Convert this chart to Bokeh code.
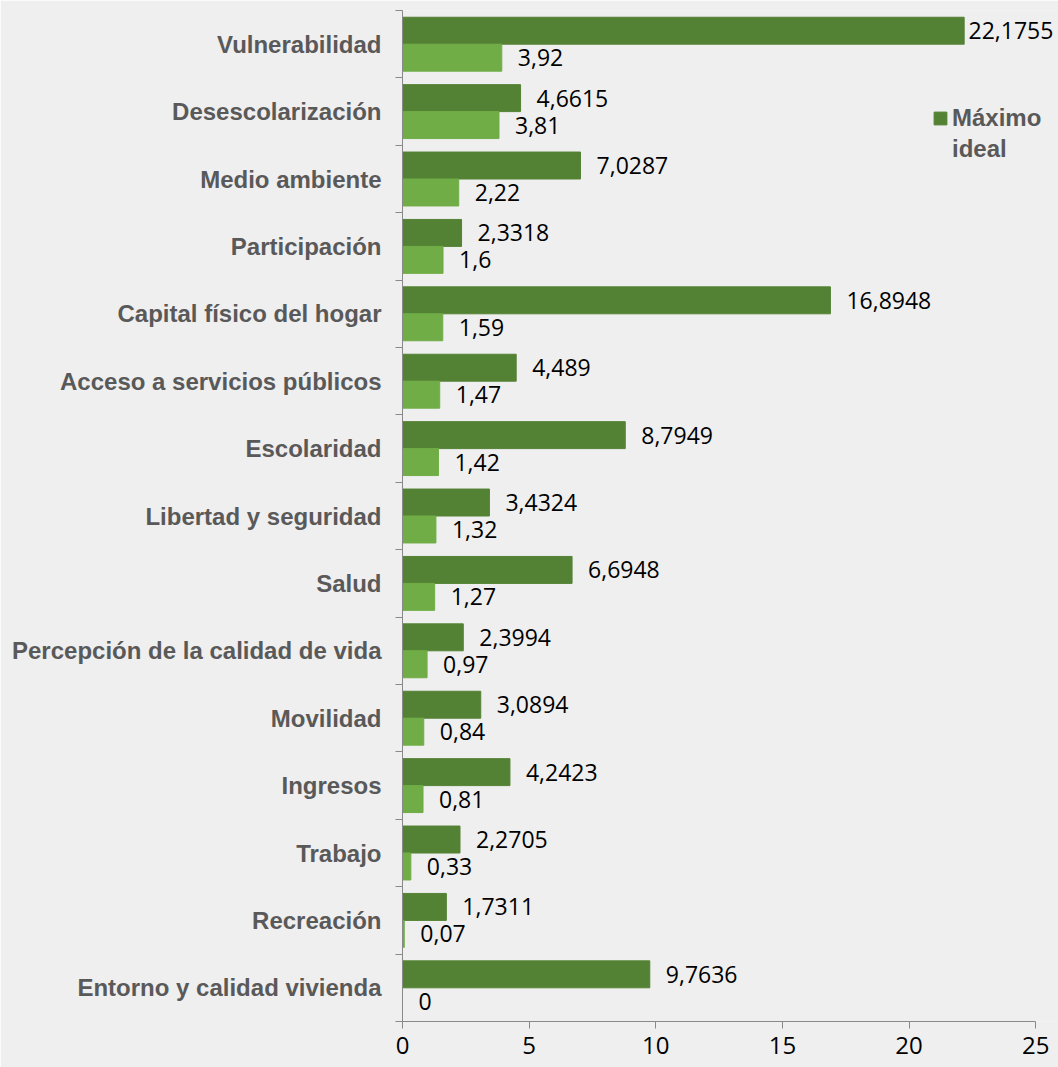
from bokeh.plotting import figure
from bokeh.models import (ColumnDataSource, FactorRange, Range1d, LinearAxis,
                          FixedTicker, Legend, LegendItem)
from bokeh.transform import dodge
from bokeh.core.properties import value
from bokeh.embed import file_html
from bokeh.resources import INLINE

categories = ["Vulnerabilidad", "Desescolarización", "Medio ambiente", "Participación",
              "Capital físico del hogar", "Acceso a servicios públicos", "Escolaridad",
              "Libertad y seguridad", "Salud", "Percepción de la calidad de vida",
              "Movilidad", "Ingresos", "Trabajo", "Recreación", "Entorno y calidad vivienda"]
maximo_ideal = [22.1755, 4.6615, 7.0287, 2.3318, 16.8948, 4.489, 8.7949, 3.4324,
                6.6948, 2.3994, 3.0894, 4.2423, 2.2705, 1.7311, 9.7636]
actual = [3.92, 3.81, 2.22, 1.6, 1.59, 1.47, 1.42, 1.32, 1.27, 0.97, 0.84, 0.81,
          0.33, 0.07, 0]
x_ticks = [0, 5, 10, 15, 20, 25]
legend_lines = ["Máximo", "ideal"]

DARK = "#548235"
LIGHT = "#70AD47"
BG = "#EFEFEF"
GRAY_TXT = "#595959"
AXIS = "#898989"

def fmt(v):
    return f"{v:g}".replace(".", ",")

X_END = 25.9
FRAME_W = 656
px_per_unit = FRAME_W / X_END

def label_offset(v, width_px=90):
    room = FRAME_W - v * px_per_unit - width_px
    return max(3, min(16, room))

src = ColumnDataSource(dict(
    cat=categories,
    maximo=maximo_ideal,
    actual=actual,
    maximo_lbl=[fmt(v) for v in maximo_ideal],
    actual_lbl=[fmt(v) for v in actual],
    maximo_off=[label_offset(v) for v in maximo_ideal],
    actual_off=[label_offset(v, 50) for v in actual],
))

p = figure(width=1058, height=1067, output_backend="svg", toolbar_location=None,
           y_range=FactorRange(factors=list(reversed(categories))),
           x_range=Range1d(0, X_END),
           min_border_left=402, min_border_right=0, min_border_top=10, min_border_bottom=46)
p.background_fill_color = BG
p.border_fill_color = BG
p.outline_line_color = None
p.grid.visible = False

r_max = p.hbar(y=dodge("cat", 0.2, range=p.y_range), right="maximo", left=0, height=0.4,
               source=src, fill_color=DARK, line_color=DARK)
p.hbar(y=dodge("cat", -0.2, range=p.y_range), right="actual", left=0, height=0.4,
       source=src, fill_color=LIGHT, line_color=LIGHT)

p.text(x="maximo", y=dodge("cat", 0.2, range=p.y_range), text="maximo_lbl", source=src,
       x_offset="maximo_off", text_align="left", text_baseline="middle",
       text_font=value("Open Sans"), text_font_size="23px", text_color="#000000")
p.text(x="actual", y=dodge("cat", -0.2, range=p.y_range), text="actual_lbl", source=src,
       x_offset="actual_off", text_align="left", text_baseline="middle",
       text_font=value("Open Sans"), text_font_size="23px", text_color="#000000")

# bottom axis
xa = p.xaxis[0]
xa.ticker = FixedTicker(ticks=x_ticks)
xa.bounds = (0, 25)
xa.axis_line_color = AXIS
xa.major_tick_line_color = AXIS
xa.major_tick_out = 7
xa.major_tick_in = 0
xa.minor_tick_line_color = None
xa.major_label_text_font = "Open Sans"
xa.major_label_text_font_size = "24px"
xa.major_label_text_color = "#000000"
xa.major_label_standoff = 8

# category axis (labels only)
ya = p.yaxis[0]
ya.axis_line_color = None
ya.major_tick_line_color = None
ya.minor_tick_line_color = None
ya.major_label_text_font = "Liberation Sans"
ya.major_label_text_font_style = "bold"
ya.major_label_text_font_size = "24px"
ya.major_label_text_color = GRAY_TXT
ya.major_label_standoff = 8

# boundary ticks axis (synthetic coordinates of the categorical range)
bounds_ticks = list(range(len(categories) + 1))
tick_axis = LinearAxis(ticker=FixedTicker(ticks=bounds_ticks),
                       major_label_overrides={t: "" for t in bounds_ticks},
                       major_label_standoff=0,
                       axis_line_color=AXIS, major_tick_line_color=AXIS,
                       major_tick_out=7, major_tick_in=0, minor_tick_line_color=None)
p.left = [tick_axis, ya]

legend = Legend(items=[LegendItem(label=legend_lines[0], renderers=[r_max]),
                       LegendItem(label=legend_lines[1], renderers=[])],
                location=(530, 858), orientation="vertical",
                background_fill_alpha=0, border_line_color=None,
                label_text_font="Liberation Sans", label_text_font_style="bold",
                label_text_font_size="24px", label_text_color=GRAY_TXT,
                glyph_width=16, glyph_height=16, label_height=24,
                padding=0, margin=0, spacing=3,
                label_standoff=4)
p.add_layout(legend)

open("out.html", "w").write(file_html(p, INLINE))
